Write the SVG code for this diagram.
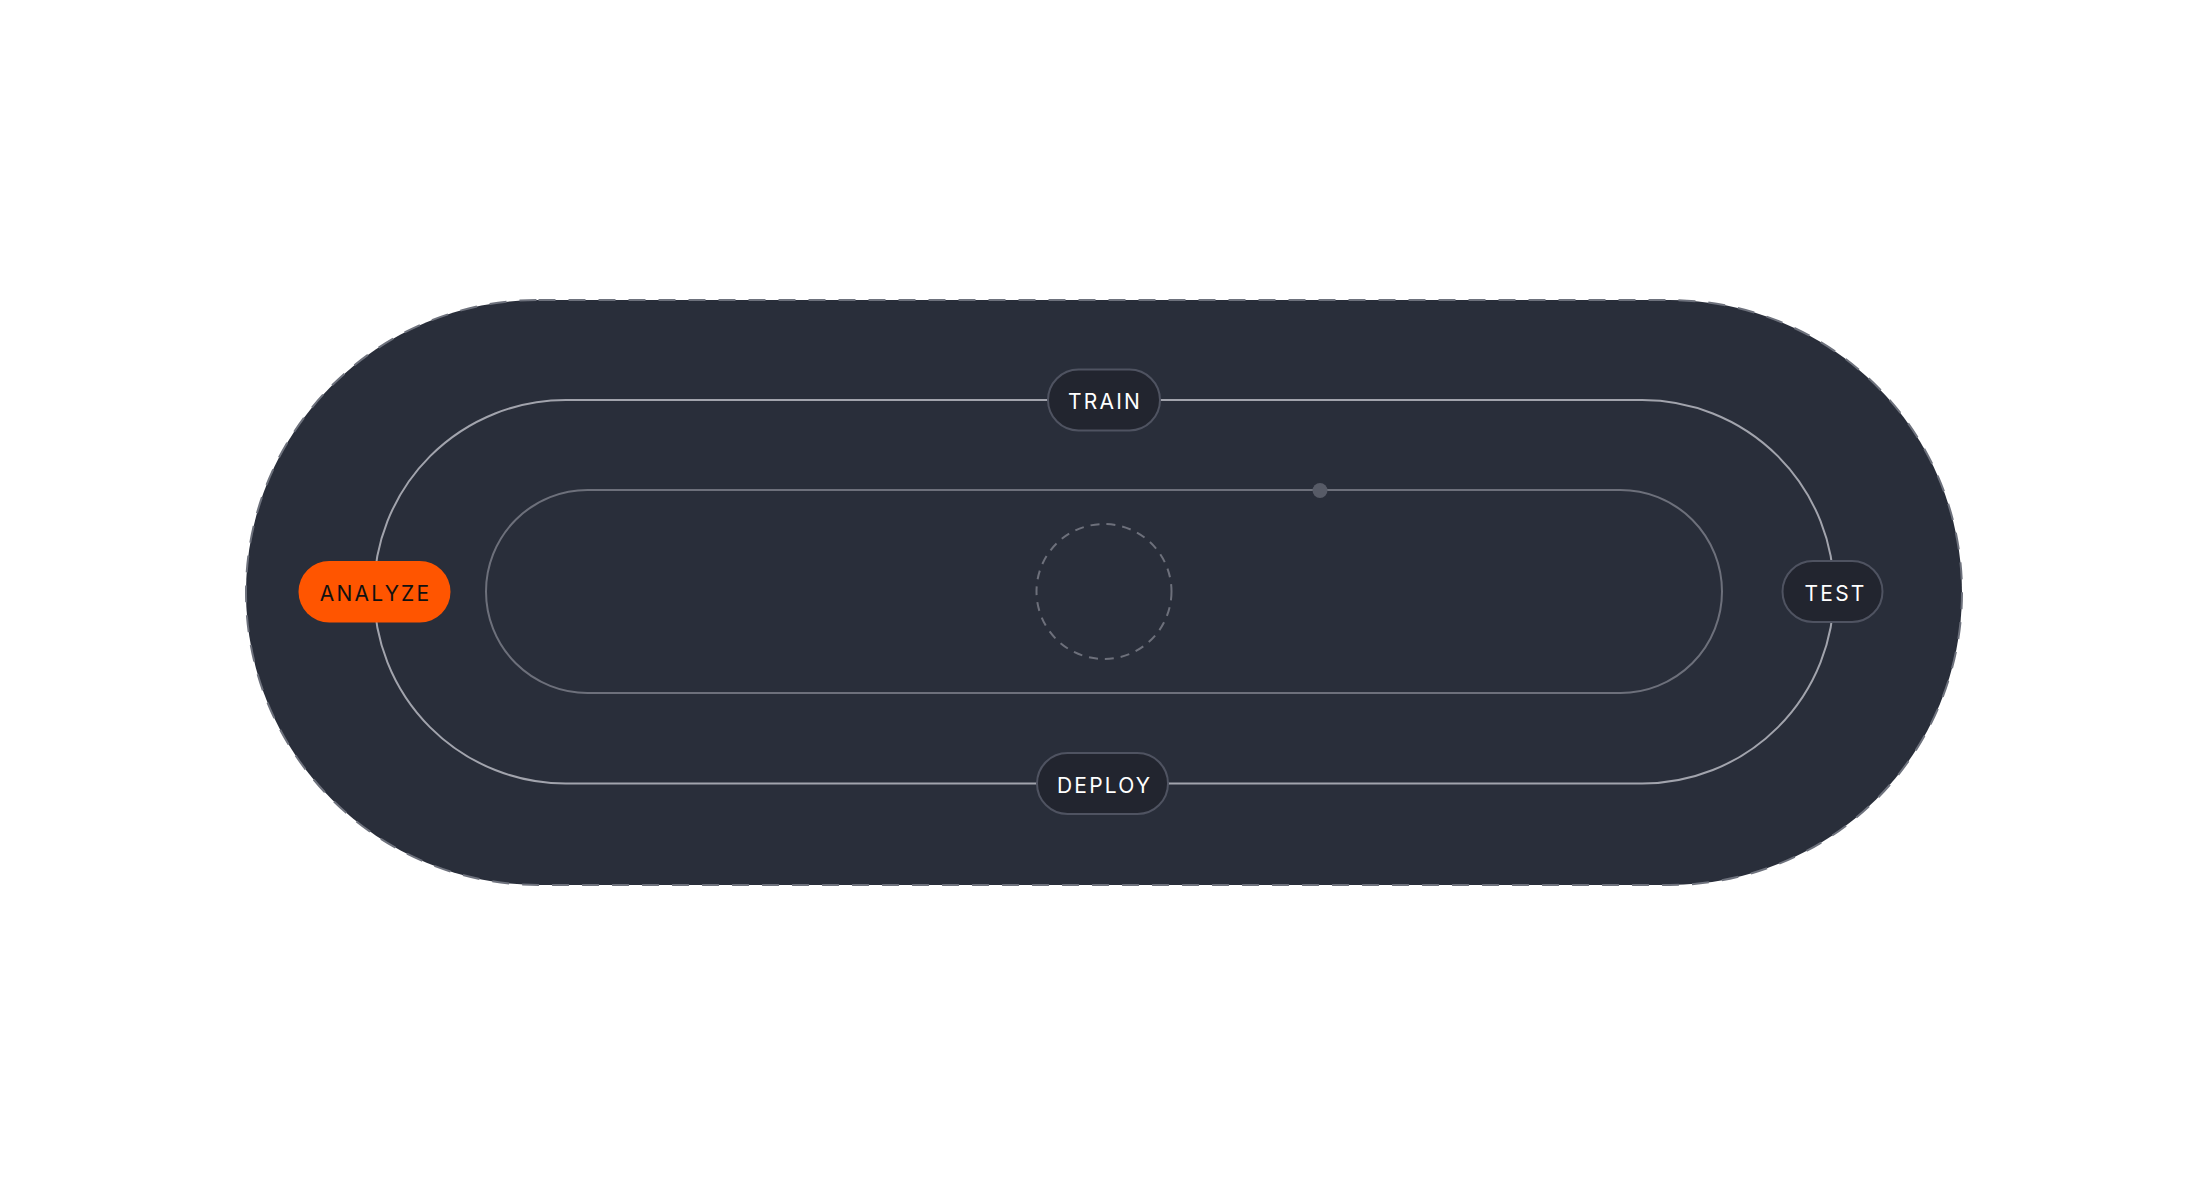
<svg xmlns="http://www.w3.org/2000/svg" width="2208" height="1184" viewBox="0 0 2208 1184">
<style>
.lbl{font-family:Inter,"Noto Sans","Liberation Sans",sans-serif;font-size:21px;letter-spacing:2.2px;text-anchor:middle}
.pill{fill:#22252f;stroke:#4f5361;stroke-width:2}
.light{fill:#ffffff}
</style>
<rect width="2208" height="1184" fill="#ffffff"/>
<g id="board">
<rect x="246" y="300" width="1716" height="585" rx="292.5" fill="#292e3a" stroke="#6d717c" stroke-width="2" stroke-dasharray="17 13"/>
</g>
<g id="connectors" fill="none">
<rect x="374" y="400" width="1460" height="383.5" rx="191.75" stroke="#a2a4ad" stroke-width="2"/>
<rect x="486" y="490" width="1236" height="203" rx="101.5" stroke="#6d707b" stroke-width="2"/>
<circle cx="1104" cy="591.5" r="67.5" stroke="#6d707b" stroke-width="2" stroke-dasharray="9 7"/>
<circle cx="1320" cy="490.5" r="7.5" fill="#575b67"/>
</g>
<g id="train">
<rect class="pill" x="1048" y="369.5" width="112" height="61" rx="30.5"/>
<text class="lbl light" x="1105.1" y="409">TRAIN</text>
</g>
<g id="analyze">
<rect x="298.5" y="561" width="152" height="61.5" rx="30.75" fill="#ff5500"/>
<text class="lbl" x="375.6" y="601" fill="#111111">ANALYZE</text>
</g>
<g id="test">
<rect class="pill" x="1782.5" y="561" width="100" height="61" rx="30.5"/>
<text class="lbl light" x="1835.6" y="601">TEST</text>
</g>
<g id="deploy">
<rect class="pill" x="1037" y="753" width="131" height="61" rx="30.5"/>
<text class="lbl light" x="1104.6" y="793">DEPLOY</text>
</g>
</svg>
